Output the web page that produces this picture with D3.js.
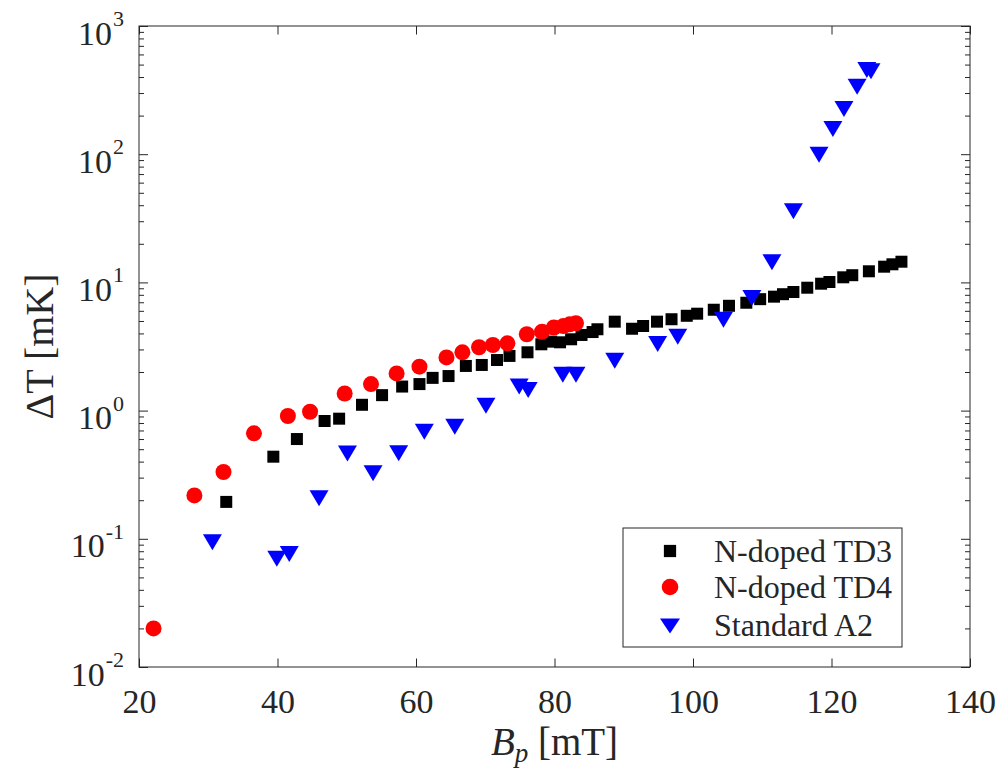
<!DOCTYPE html>
<html>
<head>
<meta charset="utf-8">
<script src="https://cdn.jsdelivr.net/npm/d3@7"></script>
<style>
  body { margin: 0; background: #fff; }
  svg { display: block; }
  text { font-family: "Liberation Serif", "Times New Roman", serif; fill: #262626; }
</style>
</head>
<body>
<div id="chart"></div>
<script>
// data
var td3B = [32.6, 39.4, 42.8, 46.8, 48.9, 52.2, 55.1, 58.0, 60.5, 62.4, 64.7, 67.2, 69.5, 71.7, 73.5, 76.1, 78.1, 79.5, 80.8, 82.4, 83.9, 85.5, 86.2, 88.7, 91.2, 92.8, 94.8, 96.9, 99.1, 100.6, 103.0, 105.2, 107.7, 109.7, 111.7, 113.0, 114.5, 116.5, 118.5, 119.7, 121.7, 123.0, 125.4, 127.6, 128.8, 130.1];
var td3T = [0.194, 0.437, 0.600, 0.830, 0.865, 1.11, 1.32, 1.54, 1.61, 1.80, 1.86, 2.23, 2.27, 2.48, 2.67, 2.85, 3.29, 3.45, 3.41, 3.60, 3.89, 4.10, 4.31, 4.94, 4.35, 4.57, 4.94, 5.16, 5.49, 5.70, 6.12, 6.57, 6.94, 7.40, 7.74, 8.09, 8.42, 9.09, 9.77, 10.07, 10.96, 11.38, 12.21, 13.26, 13.84, 14.50];

var td4B = [22.1, 28.0, 32.2, 36.6, 41.5, 44.7, 49.7, 53.5, 57.2, 60.5, 64.4, 66.7, 69.1, 71.1, 73.2, 76.0, 78.2, 79.9, 81.3, 82.2, 83.1];
var td4T = [0.020, 0.218, 0.332, 0.665, 0.908, 0.980, 1.36, 1.61, 1.95, 2.20, 2.60, 2.85, 3.12, 3.25, 3.35, 3.94, 4.12, 4.45, 4.57, 4.71, 4.80];

var a2B = [30.6, 39.9, 41.7, 46.0, 50.1, 53.8, 57.5, 61.2, 65.6, 70.1, 74.9, 76.2, 81.2, 83.1, 88.7, 94.9, 97.8, 104.4, 108.5, 111.4, 114.5, 118.2, 120.2, 121.8, 123.7, 125.1, 125.7];
var a2T = [0.094, 0.070, 0.076, 0.207, 0.462, 0.324, 0.464, 0.684, 0.749, 1.09, 1.54, 1.45, 1.90, 1.90, 2.45, 3.31, 3.77, 5.12, 7.55, 14.35, 35.9, 99, 157, 225, 336, 454, 443];

var seriesNames = ["N-doped TD3", "N-doped TD4", "Standard A2"];
var xTicks = [20, 40, 60, 80, 100, 120, 140];
var yExponents = [-2, -1, 0, 1, 2, 3];

var width = 1003;
var height = 770;
var plotLeft = 139, plotRight = 970, plotTop = 26, plotBottom = 667;
var axisColor = "#262626";

var svg = d3.select("#chart")
            .append("svg")
            .attr("width", width)
            .attr("height", height);

var xScale = d3.scaleLinear().domain([20, 140]).range([plotLeft, plotRight]);
var yScale = d3.scaleLog().domain([1e-2, 1e3]).range([plotBottom, plotTop]);

var yMajor = yExponents.map(function(e) { return Math.pow(10, e); });
var yMinor = [];
for (var e = -2; e < 3; e++) {
  for (var m = 2; m <= 9; m++) yMinor.push(m * Math.pow(10, e));
}

// triangle pointing down, centred on its bounding box
function downTriangle(w, h) {
  return "M" + (-w / 2) + "," + (-h / 2) + "L" + (w / 2) + "," + (-h / 2) + "L0," + (h / 2) + "Z";
}

// ticks (inward, all four sides)
function styleAxis(g) {
  g.select(".domain").remove();
  g.selectAll("line").attr("stroke", axisColor).attr("stroke-width", 1);
}

var xBottom = svg.append("g")
   .attr("transform", "translate(0," + plotBottom + ")")
   .call(d3.axisBottom(xScale).tickValues(xTicks).tickSize(-8.5).tickPadding(22).tickFormat(d3.format("d")));
styleAxis(xBottom);
xBottom.selectAll("text")
       .attr("font-family", "Liberation Serif")
       .attr("font-size", 34)
       .attr("fill", axisColor);

svg.append("g")
   .attr("transform", "translate(0," + plotTop + ")")
   .call(d3.axisTop(xScale).tickValues(xTicks).tickSize(-8.5).tickFormat(""))
   .call(styleAxis);

svg.append("g")
   .attr("transform", "translate(" + plotLeft + ",0)")
   .call(d3.axisLeft(yScale).tickValues(yMajor).tickSize(-9).tickFormat(""))
   .call(styleAxis);
svg.append("g")
   .attr("transform", "translate(" + plotLeft + ",0)")
   .call(d3.axisLeft(yScale).tickValues(yMinor).tickSize(-5).tickFormat(""))
   .call(styleAxis);
svg.append("g")
   .attr("transform", "translate(" + plotRight + ",0)")
   .call(d3.axisRight(yScale).tickValues(yMajor).tickSize(-9).tickFormat(""))
   .call(styleAxis);
svg.append("g")
   .attr("transform", "translate(" + plotRight + ",0)")
   .call(d3.axisRight(yScale).tickValues(yMinor).tickSize(-5).tickFormat(""))
   .call(styleAxis);

svg.append("rect")
   .attr("x", plotLeft).attr("y", plotTop)
   .attr("width", plotRight - plotLeft).attr("height", plotBottom - plotTop)
   .attr("fill", "none")
   .attr("stroke", axisColor)
   .attr("stroke-width", 1);

// y tick labels 10^n
var yLabels = svg.append("g").selectAll("text")
                 .data(yExponents)
                 .enter()
                 .append("text")
                 .attr("x", 124)
                 .attr("y", function(d) { return yScale(Math.pow(10, d)) + 18.5; })
                 .attr("text-anchor", "end")
                 .attr("font-size", 34);
yLabels.append("tspan").text("10");
yLabels.append("tspan")
       .attr("font-size", 22)
       .attr("dy", -18.5)
       .attr("dx", 1)
       .text(function(d) { return d < 0 ? "-" + (-d) : d; });

// axis titles
var xTitle = svg.append("text")
                .attr("x", (plotLeft + plotRight) / 2)
                .attr("y", 755)
                .attr("text-anchor", "middle")
                .attr("font-size", 39);
xTitle.append("tspan").attr("font-style", "italic").text("B");
xTitle.append("tspan").attr("font-style", "italic").attr("font-size", 27).attr("dy", 7).text("p");
xTitle.append("tspan").attr("dy", -7).text(" [mT]");

svg.append("text")
   .attr("transform", "translate(53," + (plotTop + plotBottom) / 2 + ") rotate(-90)")
   .attr("text-anchor", "middle")
   .attr("font-size", 40)
   .text("\u0394T [mK]");

// markers
var plot = svg.append("g");

plot.selectAll("path.td3")
    .data(td3B.map(function(b, i) { return [b, td3T[i]]; }))
    .enter()
    .append("path")
    .attr("class", "td3")
    .attr("d", d3.symbol().type(d3.symbolSquare).size(144))
    .attr("transform", function(d) { return "translate(" + xScale(d[0]) + "," + yScale(d[1]) + ")"; })
    .attr("fill", "#000000");

plot.selectAll("circle.td4")
    .data(td4B.map(function(b, i) { return [b, td4T[i]]; }))
    .enter()
    .append("circle")
    .attr("class", "td4")
    .attr("cx", function(d) { return xScale(d[0]); })
    .attr("cy", function(d) { return yScale(d[1]); })
    .attr("r", 8)
    .attr("fill", "#ff0000");

plot.selectAll("path.a2")
    .data(a2B.map(function(b, i) { return [b, a2T[i]]; }))
    .enter()
    .append("path")
    .attr("class", "a2")
    .attr("d", downTriangle(19, 16))
    .attr("transform", function(d) { return "translate(" + xScale(d[0]) + "," + yScale(d[1]) + ")"; })
    .attr("fill", "#0000ff");

// legend
var legend = svg.append("g");
legend.append("rect")
      .attr("x", 623).attr("y", 528)
      .attr("width", 279).attr("height", 119)
      .attr("fill", "#fff")
      .attr("stroke", axisColor)
      .attr("stroke-width", 1);

var rowY = [551, 587, 626];
legend.append("path")
      .attr("d", d3.symbol().type(d3.symbolSquare).size(150))
      .attr("transform", "translate(670," + rowY[0] + ")")
      .attr("fill", "#000");
legend.append("circle")
      .attr("cx", 670).attr("cy", rowY[1]).attr("r", 8.3)
      .attr("fill", "#ff0000");
legend.append("path")
      .attr("d", downTriangle(20, 15))
      .attr("transform", "translate(670," + rowY[2] + ")")
      .attr("fill", "#0000ff");

legend.selectAll("text.name")
      .data(seriesNames)
      .enter()
      .append("text")
      .attr("class", "name")
      .attr("x", 714)
      .attr("y", function(d, i) { return [561.5, 597.5, 636][i]; })
      .attr("font-size", 32)
      .attr("fill", "#000")
      .text(function(d) { return d; });
</script>
</body>
</html>
